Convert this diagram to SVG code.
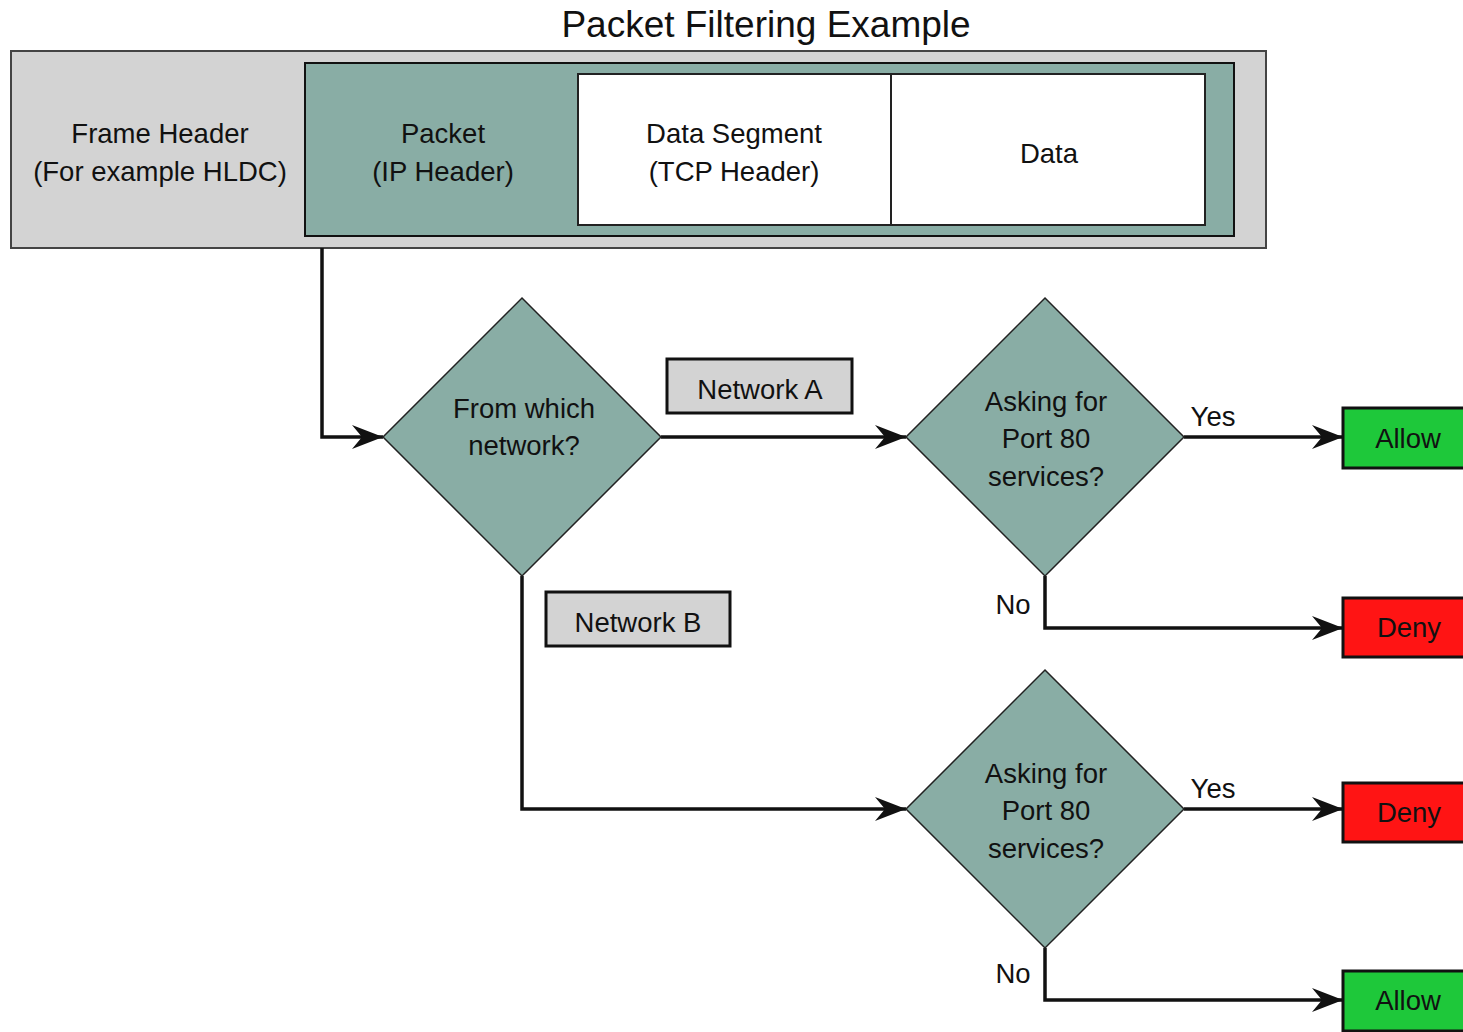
<svg xmlns="http://www.w3.org/2000/svg" width="1463" height="1032" viewBox="0 0 1463 1032">
  <style>
    text { font-family: "Liberation Sans", Arial, sans-serif; font-size: 27.5px; fill: #111; text-anchor: middle; }
    .title { font-size: 37px; }
    .frame { fill: #d3d3d3; stroke: #444; stroke-width: 2; }
    .packet { fill: #89ada5; stroke: #111; stroke-width: 2; }
    .seg { fill: #fff; stroke: #222; stroke-width: 2; }
    .diamond { fill: #89ada5; stroke: #222; stroke-width: 1.5; }
    .label { fill: #d3d3d3; stroke: #111; stroke-width: 3; }
    .allow { fill: #1ec83a; stroke: #111; stroke-width: 3; }
    .deny { fill: #ff1414; stroke: #111; stroke-width: 3; }
    .conn { fill: none; stroke: #111; stroke-width: 3.5; marker-end: url(#arrow); }
  </style>
  <defs>
    <marker id="arrow" markerUnits="userSpaceOnUse" markerWidth="40" markerHeight="30" viewBox="-32 -15 34 30" refX="0" refY="0" orient="auto">
      <path d="M0,0 L-31,-12 L-21,0 L-31,12 Z" fill="#111"/>
    </marker>
  </defs>

  <rect width="1463" height="1032" fill="#fff"/>

  <text class="title" x="766" y="37">Packet Filtering Example</text>

  <!-- frame structure -->
  <g id="frame">
    <rect class="frame" x="11" y="51" width="1255" height="197"/>
    <text x="160" y="143">Frame Header</text>
    <text x="160" y="181">(For example HLDC)</text>
  </g>
  <g id="packet">
    <rect class="packet" x="305" y="63" width="929" height="173"/>
    <text x="443" y="143">Packet</text>
    <text x="443" y="181">(IP Header)</text>
  </g>
  <g id="segment">
    <rect class="seg" x="578" y="74" width="313" height="151"/>
    <text x="734" y="143">Data Segment</text>
    <text x="734" y="181">(TCP Header)</text>
  </g>
  <g id="data">
    <rect class="seg" x="891" y="74" width="314" height="151"/>
    <text x="1049" y="163">Data</text>
  </g>

  <!-- connectors -->
  <g id="connectors">
    <path class="conn" d="M322,248 V437 H383"/>
    <path class="conn" d="M661,437 H906"/>
    <path class="conn" d="M1184,437 H1343"/>
    <path class="conn" d="M1045,576 V628 H1343"/>
    <path class="conn" d="M522,576 V809 H906"/>
    <path class="conn" d="M1184,809 H1343"/>
    <path class="conn" d="M1045,948 V1000 H1343"/>
    <text x="1213" y="426">Yes</text>
    <text x="1013" y="614">No</text>
    <text x="1213" y="798">Yes</text>
    <text x="1013" y="983">No</text>
  </g>

  <!-- decisions -->
  <g id="which-network">
    <polygon class="diamond" points="522,298 661,437 522,576 383,437"/>
    <text x="524" y="418">From which</text>
    <text x="524" y="455">network?</text>
  </g>
  <g id="port80-a">
    <polygon class="diamond" points="1045,298 1184,437 1045,576 906,437"/>
    <text x="1046" y="411">Asking for</text>
    <text x="1046" y="448">Port 80</text>
    <text x="1046" y="486">services?</text>
  </g>
  <g id="port80-b">
    <polygon class="diamond" points="1045,670 1184,809 1045,948 906,809"/>
    <text x="1046" y="783">Asking for</text>
    <text x="1046" y="820">Port 80</text>
    <text x="1046" y="858">services?</text>
  </g>

  <!-- branch labels -->
  <g id="network-a">
    <rect class="label" x="667" y="359" width="185" height="54"/>
    <text x="760" y="399">Network A</text>
  </g>
  <g id="network-b">
    <rect class="label" x="546" y="592" width="184" height="54"/>
    <text x="638" y="632">Network B</text>
  </g>

  <!-- outcomes -->
  <g id="allow-1">
    <rect class="allow" x="1343" y="408" width="140" height="60"/>
    <text x="1408" y="448">Allow</text>
  </g>
  <g id="deny-1">
    <rect class="deny" x="1343" y="598" width="140" height="59"/>
    <text x="1409" y="637">Deny</text>
  </g>
  <g id="deny-2">
    <rect class="deny" x="1343" y="783" width="140" height="59"/>
    <text x="1409" y="822">Deny</text>
  </g>
  <g id="allow-2">
    <rect class="allow" x="1343" y="971" width="140" height="60"/>
    <text x="1408" y="1010">Allow</text>
  </g>
</svg>
